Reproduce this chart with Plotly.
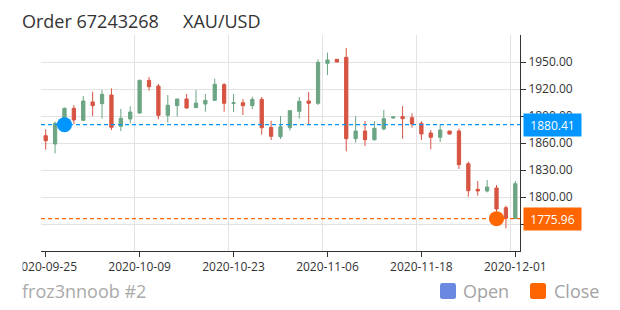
import plotly.graph_objects as go

# ---------------- data ----------------
dates = [
    "2020-09-25", "2020-09-28", "2020-09-29", "2020-09-30", "2020-10-01",
    "2020-10-02", "2020-10-05", "2020-10-06", "2020-10-07", "2020-10-08",
    "2020-10-09", "2020-10-12", "2020-10-13", "2020-10-14", "2020-10-15",
    "2020-10-16", "2020-10-19", "2020-10-20", "2020-10-21", "2020-10-22",
    "2020-10-23", "2020-10-26", "2020-10-27", "2020-10-28", "2020-10-29",
    "2020-10-30", "2020-11-02", "2020-11-03", "2020-11-04", "2020-11-05",
    "2020-11-06", "2020-11-08", "2020-11-09", "2020-11-10", "2020-11-11",
    "2020-11-12", "2020-11-13", "2020-11-15", "2020-11-16", "2020-11-17",
    "2020-11-18", "2020-11-19", "2020-11-20", "2020-11-22", "2020-11-23",
    "2020-11-24", "2020-11-25", "2020-11-26", "2020-11-27", "2020-11-30",
    "2020-12-01",
]
opens = [1868.1, 1858.9, 1880.41, 1898.5, 1885.2, 1905.6, 1903.7, 1913.3, 1878.5, 1886.7,
         1893.3, 1929.6, 1923.3, 1890.7, 1901.5, 1908.9, 1899.3, 1903.3, 1907.4, 1924.8,
         1904.0, 1904.8, 1901.5, 1908.5, 1877.4, 1867.0, 1877.0, 1895.2, 1906.7, 1904.1,
         1948.5, 1953.0, 1955.2, 1864.8, 1873.3, 1863.7, 1875.6, 1887.8, 1889.3, 1888.1,
         1881.9, 1871.1, 1866.3, 1873.3, 1873.3, 1837.0, 1808.5, 1806.7, 1810.0, 1788.1,
         1776.0]
highs = [1875.2, 1883.7, 1899.5, 1902.2, 1912.2, 1917.0, 1918.9, 1920.7, 1897.8, 1900.7,
         1930.5, 1933.3, 1925.6, 1913.3, 1909.0, 1914.4, 1918.9, 1914.4, 1931.5, 1926.7,
         1914.4, 1908.9, 1911.5, 1911.1, 1884.8, 1890.0, 1896.7, 1911.1, 1916.7, 1953.0,
         1960.4, 1953.3, 1965.6, 1890.0, 1884.4, 1884.4, 1896.7, 1889.5, 1901.1, 1893.0,
         1884.1, 1874.4, 1880.8, 1873.5, 1875.9, 1839.3, 1817.8, 1818.9, 1813.3, 1790.4,
         1817.8]
lows = [1852.6, 1848.5, 1875.0, 1881.1, 1884.4, 1890.0, 1887.0, 1874.4, 1873.3, 1881.9,
        1892.5, 1918.1, 1886.3, 1882.6, 1889.6, 1898.1, 1898.9, 1894.8, 1906.7, 1894.8,
        1894.4, 1891.1, 1897.8, 1869.2, 1863.3, 1864.4, 1873.7, 1887.0, 1881.1, 1902.2,
        1935.6, 1949.7, 1850.7, 1860.4, 1856.7, 1862.6, 1874.1, 1887.0, 1864.8, 1877.0,
        1863.3, 1853.0, 1861.1, 1869.5, 1831.1, 1800.4, 1801.5, 1805.2, 1781.0, 1765.2,
        1775.5]
closes = [1862.6, 1881.9, 1898.5, 1885.6, 1906.7, 1901.5, 1914.1, 1877.4, 1887.4, 1894.4,
          1929.6, 1922.6, 1890.7, 1901.9, 1908.9, 1898.9, 1904.4, 1907.4, 1925.2, 1904.1,
          1904.6, 1901.5, 1908.5, 1877.0, 1867.4, 1878.1, 1895.9, 1906.3, 1904.1, 1949.6,
          1952.2, 1950.0, 1864.8, 1873.3, 1863.7, 1876.3, 1887.0, 1888.9, 1887.0, 1881.1,
          1870.0, 1866.3, 1874.4, 1870.0, 1835.9, 1807.0, 1806.7, 1811.1, 1786.7, 1776.3,
          1814.8]

tick_labels = ["2020-09-25", "2020-10-09", "2020-10-23", "2020-11-06", "2020-11-18", "2020-12-01"]
y_ticks = [1770, 1800, 1830, 1860, 1890, 1920, 1950]
y_hidden_labels = [1770]          # covered by the close price tag in the original
y_range = [1740, 1980]

entry_date, entry_price = "2020-09-29", 1880.41
exit_date, exit_price = "2020-11-27", 1775.96

title_order = "Order 67243268"
title_symbol = "XAU/USD"
footer_text = "froz3nnoob #2"
legend_names = ["Open", "Close"]

# ---------------- styles ----------------
UP, DOWN = "#6ba583", "#d75442"
BLUE, ORANGE = "#0095ff", "#ff6600"
LEGEND_BLUE = "#6b88e0"
GRID = "#e3e3e3"
AXIS = "#333333"
FONT = "Open Sans"

W, H = 620, 310
ML, MR, MT, MB = 41, 100, 35, 59
PW, PH = W - ML - MR, H - MT - MB


def px(x):
    return (x - ML) / PW


def py(y):
    return (H - MB - y) / PH


xs = list(range(len(dates)))
xpos = {d: i for i, d in enumerate(dates)}

fig = go.Figure()

fig.add_trace(go.Candlestick(
    x=xs, open=opens, high=highs, low=lows, close=closes,
    increasing=dict(line=dict(color=UP, width=1), fillcolor=UP),
    decreasing=dict(line=dict(color=DOWN, width=1), fillcolor=DOWN),
    whiskerwidth=0, showlegend=False, hoverinfo="skip",
))

x_span = [xs[0] - 0.5, xs[-1] + 0.5]
for price, col in [(entry_price, BLUE), (exit_price, ORANGE)]:
    fig.add_trace(go.Scatter(
        x=x_span, y=[price, price], mode="lines",
        line=dict(color=col, width=1.3, dash="4px,3px"),
        showlegend=False, hoverinfo="skip", cliponaxis=True,
    ))

fig.add_trace(go.Scatter(
    x=[xpos[entry_date]], y=[entry_price], mode="markers",
    marker=dict(color=BLUE, size=15), name=legend_names[0], showlegend=False,
))
fig.add_trace(go.Scatter(
    x=[xpos[exit_date]], y=[exit_price], mode="markers",
    marker=dict(color=ORANGE, size=15), name=legend_names[1], showlegend=False,
))

tick_pos = [xpos[t] for t in tick_labels]

fig.update_xaxes(
    type="linear", range=x_span,
    tickvals=tick_pos, ticktext=tick_labels,
    ticks="outside", ticklen=5, tickcolor=AXIS,
    showgrid=False, zeroline=False,
    showline=True, linecolor=AXIS, linewidth=1,
    tickfont=dict(family=FONT, size=12, color="#333"),
    rangeslider=dict(visible=False),
    minor=dict(tickvals=[p - 0.5 for p in tick_pos], showgrid=True,
               gridcolor=GRID, gridwidth=1, ticks=""),
    fixedrange=True,
)
fig.update_yaxes(
    side="right", range=y_range,
    tickvals=y_ticks,
    ticktext=["" if v in y_hidden_labels else f"{v:.2f}" for v in y_ticks],
    ticks="outside", ticklen=5, tickcolor=AXIS,
    showgrid=True, gridcolor=GRID, gridwidth=1, zeroline=False,
    showline=True, linecolor=AXIS, linewidth=1,
    tickfont=dict(family=FONT, size=12, color="#333"),
    minor=dict(tickvals=[y_range[1]], showgrid=True, gridcolor=GRID, ticks=""),
    fixedrange=True,
)

annotations = []
# white strip: the original container clips everything left of x=20px
annotations.append(dict(xref="paper", yref="paper", x=px(0), y=py(254),
                        xanchor="left", yanchor="top", showarrow=False,
                        text=" ", width=21, height=24, borderpad=0,
                        bgcolor="white", font=dict(size=10, color="white")))
# price tags
for price, col in [(entry_price, BLUE), (exit_price, ORANGE)]:
    annotations.append(dict(
        xref="paper", x=1, xanchor="left", xshift=2.5,
        yref="y", y=price, yanchor="middle",
        text=f"{price:.2f}", showarrow=False,
        bgcolor=col, width=55, height=20, borderpad=1,
        font=dict(family=FONT, size=12, color="white"),
    ))
# titles
annotations.append(dict(xref="paper", yref="paper", x=px(20), y=py(21),
                        xanchor="left", yanchor="middle", showarrow=False,
                        text=title_order, font=dict(family=FONT, size=18, color="#333")))
annotations.append(dict(xref="paper", yref="paper", x=px(181), y=py(21),
                        xanchor="left", yanchor="middle", showarrow=False,
                        text=title_symbol, font=dict(family=FONT, size=18, color="#333")))
# footer
annotations.append(dict(xref="paper", yref="paper", x=px(20), y=py(291),
                        xanchor="left", yanchor="middle", showarrow=False,
                        text=footer_text, font=dict(family=FONT, size=18, color="#aaaaaa")))
# legend texts
annotations.append(dict(xref="paper", yref="paper", x=px(461), y=py(291),
                        xanchor="left", yanchor="middle", showarrow=False,
                        text=legend_names[0], font=dict(family=FONT, size=18, color="#a3a3a3")))
annotations.append(dict(xref="paper", yref="paper", x=px(552), y=py(291),
                        xanchor="left", yanchor="middle", showarrow=False,
                        text=legend_names[1], font=dict(family=FONT, size=18, color="#a3a3a3")))


def rounded_rect(x0, y0, x1, y1, r):
    X0, X1 = px(x0), px(x1)
    Y0, Y1 = py(y0), py(y1)
    rx, ry = r / PW, r / PH
    return (f"M{X0 + rx},{Y0} L{X1 - rx},{Y0} Q{X1},{Y0} {X1},{Y0 - ry} "
            f"L{X1},{Y1 + ry} Q{X1},{Y1} {X1 - rx},{Y1} L{X0 + rx},{Y1} "
            f"Q{X0},{Y1} {X0},{Y1 + ry} L{X0},{Y0 - ry} Q{X0},{Y0} {X0 + rx},{Y0} Z")


shapes = [
    dict(type="path", xref="paper", yref="paper", path=rounded_rect(440, 283, 456, 299, 2.5),
         fillcolor=LEGEND_BLUE, line=dict(width=0)),
    dict(type="path", xref="paper", yref="paper", path=rounded_rect(530, 283, 546, 299, 2.5),
         fillcolor=ORANGE, line=dict(width=0)),
]

fig.update_layout(
    width=W, height=H,
    margin=dict(l=ML, r=MR, t=MT, b=MB, pad=0),
    paper_bgcolor="white", plot_bgcolor="white",
    font=dict(family=FONT, size=12, color="#333"),
    boxgap=0.5,
    showlegend=False,
    annotations=annotations,
    shapes=shapes,
    hovermode=False,
)

fig.write_html("out.html")
